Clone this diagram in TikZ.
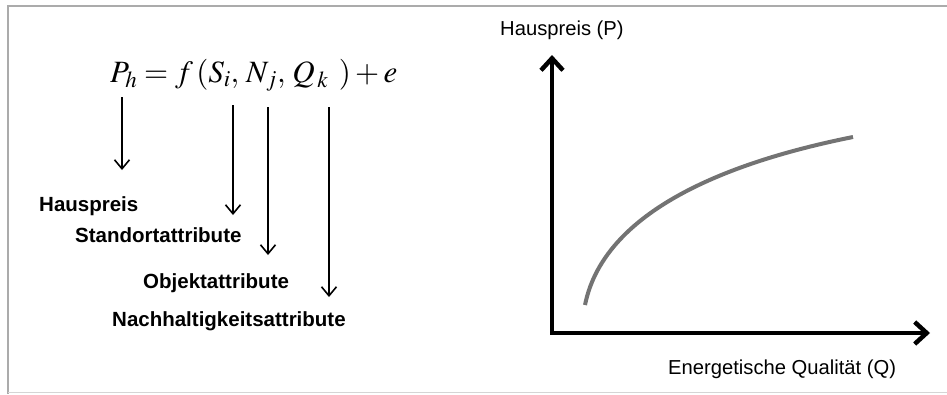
\documentclass[tikz,border=0pt]{standalone}
\usepackage{mathptmx}
\usepackage{fontspec}
\setsansfont{Liberation Sans}
\usetikzlibrary{arrows.meta}
\definecolor{rahmen}{gray}{0.67}
\definecolor{kurve}{gray}{0.45}
\newcommand{\pfeil}[2]{\draw[duennpfeil] (#1) -- (#2)}
\newcommand{\etikett}[3]{\node[merkmal] (#1) at (#2) {#3}}

\begin{document}
\begin{tikzpicture}[x=1pt, y=-1pt,
	merkmal/.style={inner sep=0pt, anchor=base west, font=\sffamily\bfseries\fontsize{20.5}{24}\selectfont},
	achsentext/.style={inner sep=0pt, anchor=base west, font=\sffamily\fontsize{20.2}{24}\selectfont},
	duennpfeil/.style={line width=1.6pt, -{Straight Barb[length=9pt, width=15pt]}},
	achse/.style={line width=4.5pt, line join=miter, {Straight Barb[length=12pt, width=22pt]}-{Straight Barb[length=12pt, width=22pt]}}]
	\useasboundingbox (0,0) rectangle (947,394);
%Frame
	\draw[rahmen, line width=2pt] (8,394) -- (8,6) -- (947,6);
	\draw[rahmen!50, line width=1pt] (8,392.5) -- (947,392.5);
%The equation
	\node[inner sep=0pt, anchor=base west, font=\fontsize{31}{36}\selectfont] (formel) at (110,82)
		{$P_{h} = f\,(S_{i},\, N_{j},\, Q_{\,k}\;\,) + e$};
%Labels
	\etikett{hauspreis}{39,211}{Hauspreis};
	\etikett{standort}{75,242}{Standortattribute};
	\etikett{objekt}{143,288}{Objektattribute};
	\etikett{nachhaltig}{112,326}{Nachhaltigkeitsattribute};
%Arrows from the terms
	\coordinate (ph) at (122,97);   \coordinate (ph end) at (122,170);
	\coordinate (si) at (233,105);  \coordinate (si end) at (233,215);
	\coordinate (nj) at (268,107);  \coordinate (nj end) at (268,255);
	\coordinate (qk) at (329,107);  \coordinate (qk end) at (329,297);
	\pfeil{ph}{ph end};
	\pfeil{si}{si end};
	\pfeil{nj}{nj end};
	\pfeil{qk}{qk end};
%Axes
	\coordinate (ursprung) at (552,333);
	\coordinate (pspitze) at (552,55);
	\coordinate (qspitze) at (930,333);
	\draw[achse] (pspitze) -- (ursprung) -- (qspitze);
	\node[achsentext] (plabel) at (500,35) {Hauspreis (P)};
	\node[achsentext] (qlabel) at (668,374) {Energetische Qualität (Q)};
%The curve
	\draw[kurve, line width=4pt] (585,305) .. controls (605,205) and (743,159) .. (853,137);
\end{tikzpicture}
\end{document}
